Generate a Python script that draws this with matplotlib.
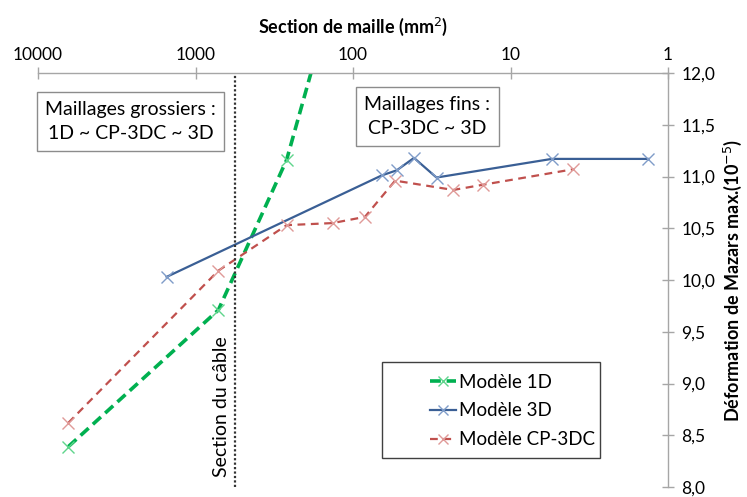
import numpy as np
import matplotlib
matplotlib.use("Agg")
import matplotlib.pyplot as plt
from matplotlib.patches import Rectangle
from matplotlib.ticker import FixedLocator, FuncFormatter, NullLocator

plt.rcParams['font.family'] = ['Lato', 'DejaVu Sans']

# data
x_1d = [6420, 716, 264, 100]
y_1d = [8.39, 9.71, 11.16, 13.45]   # last point lies above the axis
x_3d = [1525, 65.8, 52.7, 41.0, 29.5, 5.47, 1.33]
y_3d = [10.03, 11.01, 11.06, 11.18, 10.99, 11.17, 11.17]
x_cp = [6420, 716, 264, 134.6, 84.0, 54.0, 23.1, 15.0, 3.99]
y_cp = [8.62, 10.09, 10.53, 10.55, 10.61, 10.96, 10.87, 10.92, 11.07]
cable_section = 561
x_ticks = [10000, 1000, 100, 10, 1]
y_ticks = [8.0, 8.5, 9.0, 9.5, 10.0, 10.5, 11.0, 11.5, 12.0]

W, H = 747, 497
fig = plt.figure(figsize=(W / 100, H / 100), dpi=100)
ax = fig.add_axes([38 / W, 1 - 487 / H, 630 / W, 414 / H])


def fx(px):
    return px / W


def fy(py):
    return 1 - py / H


ax.plot(x_1d, y_1d, color='#00B050', lw=2.6, ls=(0, (3, 1.6)), marker='x', ms=9,
        mec='#5fd58c', mew=1.0, label='Modèle 1D')
ax.plot(x_3d, y_3d, color='#3a5f95', lw=1.6, marker='x', ms=9,
        mec='#7f9cc8', mew=1.0, label='Modèle 3D')
ax.plot(x_cp, y_cp, color='#c0504d', lw=1.6, ls=(0, (3.5, 2.5)), marker='x', ms=9,
        mec='#e09a98', mew=1.0, label='Modèle CP-3DC')

ax.axvline(cable_section, color='#333333', lw=1.6, ls=(0, (1, 1)))
ax.text(cable_section * 1.07, 8.1, 'Section du câble', rotation=90,
        ha='right', va='bottom', fontsize=14)

ax.set_xscale('log')
ax.set_xlim(10000, 1)
ax.set_ylim(8.0, 12.0)

ax.xaxis.set_major_locator(FixedLocator(x_ticks))
ax.xaxis.set_minor_locator(NullLocator())
ax.xaxis.set_major_formatter(FuncFormatter(lambda v, p: '%d' % round(v)))
ax.xaxis.tick_top()
ax.xaxis.set_label_position('top')
ax.set_xlabel('Section de maille (mm$^2$)', fontsize=13, fontweight='bold', labelpad=10)

ax.yaxis.set_major_locator(FixedLocator(y_ticks))
ax.yaxis.set_major_formatter(FuncFormatter(lambda v, p: ('%.1f' % v).replace('.', ',')))
ax.yaxis.tick_right()
ax.yaxis.set_label_position('right')
ax.set_ylabel('Déformation de Mazars max.(10$^{-5}$)', fontsize=13, fontweight='bold', labelpad=5)

for s in ['left', 'bottom']:
    ax.spines[s].set_visible(False)
for s in ['top', 'right']:
    ax.spines[s].set_color('#a6a6a6')
    ax.spines[s].set_linewidth(1.0)
ax.tick_params(axis='both', direction='inout', length=9, width=1.0, color='#a6a6a6',
               labelsize=12.5, pad=5)
ax.tick_params(axis='x', pad=3)

# annotation boxes
boxes = [
    ((37, 92, 187, 59), 'Maillages grossiers :\n1D ~ CP-3DC ~ 3D'),
    ((356, 87, 143, 59), 'Maillages fins :\nCP-3DC ~ 3D'),
]
for (bx, by, bw, bh), txt in boxes:
    ax.add_patch(Rectangle((fx(bx), fy(by + bh)), bw / W, bh / H, transform=fig.transFigure,
                           fc='white', ec='#8c8c8c', lw=1.0, zorder=5, clip_on=False))
    ax.text(fx(bx + bw / 2), fy(by + bh / 2), txt, transform=fig.transFigure,
            ha='center', va='center', fontsize=14, linespacing=1.45, zorder=6)

# legend
ax.add_patch(Rectangle((fx(382), fy(458)), 218 / W, 96 / H, transform=fig.transFigure,
                       fc='white', ec='#404040', lw=1.0, zorder=5, clip_on=False))
leg = ax.legend(loc='center left', bbox_to_anchor=(fx(421), fy(411)),
                bbox_transform=fig.transFigure, fontsize=13.5, frameon=False,
                handlelength=1.35, handletextpad=0.2, borderpad=0,
                labelspacing=0.62, markerscale=0.85)
leg.set_zorder(7)

fig.savefig('out.png', dpi=100)
